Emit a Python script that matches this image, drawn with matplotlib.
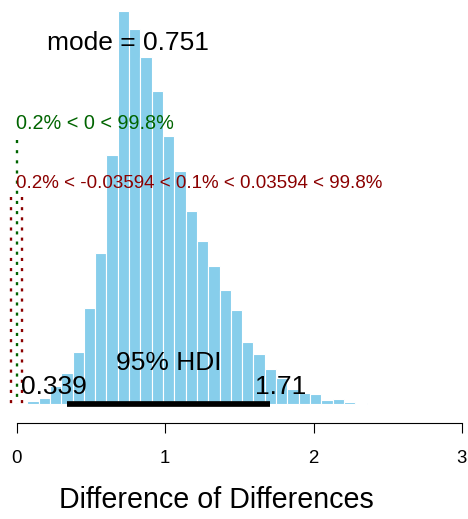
import numpy as np
import matplotlib
matplotlib.use("Agg")
import matplotlib.pyplot as plt
import matplotlib.transforms as mtransforms

# ---- data ----
bin_start = -0.081
bin_width = 0.0762
density = [0.002, 0.002, 0.013, 0.023, 0.070, 0.117, 0.198, 0.363, 0.570, 0.939,
           1.481, 1.413, 1.308, 1.180, 1.011, 0.879, 0.728, 0.615, 0.521, 0.431,
           0.356, 0.235, 0.190, 0.134, 0.100, 0.058, 0.043, 0.040, 0.017, 0.021,
           0.009, 0.006]
mode_val = 0.751
hdi = [0.339, 1.71]
cred_mass = 95
comp_val = 0.0
pc_lt_cv, pc_gt_cv = 0.2, 99.8
rope = [-0.03594, 0.03594]
pc_lt_rope, pc_in_rope, pc_gt_rope = 0.2, 0.1, 99.8
x_ticks = [0, 1, 2, 3]
x_tick_labels = ["0", "1", "2", "3"]
x_label = "Difference of Differences"

plt.rcParams['font.family'] = ['Liberation Sans', 'DejaVu Sans']

W, H = 468, 519
fig = plt.figure(figsize=(W / 100, H / 100), dpi=100)
ax_bottom_px = 422.7
ax = fig.add_axes([0, (H - ax_bottom_px) / H, 1, ax_bottom_px / H])
ax.set_xlim(-0.1125, 3.041)
ax.set_ylim(-0.0685, 1.5224)

edges = bin_start + bin_width * np.arange(len(density))
ax.bar(edges, density, width=bin_width, align='edge', color='#87CEEB',
       edgecolor='white', linewidth=0.8, zorder=1)

max_d = max(density)
cen_ht = 0.9 * max_d
cv_ht = 0.7 * max_d
rope_ht = 0.55 * max_d

dot_style = (0, (1.3, 3.0))
ax.plot([comp_val, comp_val], [0.96 * cv_ht, 0], color='#006400', lw=1.7,
        linestyle=dot_style, zorder=3)
for r in rope:
    ax.plot([r, r], [0.96 * rope_ht, 0], color='#8B0000', lw=1.7,
            linestyle=dot_style, zorder=3)

ax.plot(hdi, [0, 0], color='black', lw=4.1, solid_capstyle='butt', zorder=4)

# axes styling
for s in ['left', 'right', 'top']:
    ax.spines[s].set_visible(False)
ax.spines['bottom'].set_bounds(x_ticks[0], x_ticks[-1])
ax.spines['bottom'].set_linewidth(0.8)
ax.set_xticks(x_ticks)
ax.set_xticklabels(x_tick_labels)
ax.set_yticks([])
ax.tick_params(axis='x', length=7.3, width=0.8, pad=12.5, labelsize=13.4)

fig.text(216.5 / W, 1 - 500 / H, x_label, ha='center', va='center', fontsize=20.6)

big = 19
texts = []
# (x, y, string, hfrac, dx_px, dy_px, size, color)
texts.append((mode_val, cen_ht, f"mode = {mode_val}", 0.5, 0, 0, big, 'black'))
texts.append((comp_val, cv_ht, f"{pc_lt_cv}% < {comp_val:g} < {pc_gt_cv}%",
              pc_lt_cv / 100, 0, 0, 14.3, '#006400'))
texts.append((rope[0], rope_ht,
              f"{pc_lt_rope}% < {rope[0]} < {pc_in_rope}% < {rope[1]} < {pc_gt_rope}%",
              pc_lt_rope / 100, 5.5, 0, 13.5, '#8B0000'))
texts.append((np.mean(hdi), 0, f"{cred_mass}% HDI", 0.5, 0, 34.5, big, 'black'))
texts.append((hdi[0], 0, f"{hdi[0]}", 0.7, 0, 10.5, big, 'black'))
texts.append((hdi[1], 0, f"{hdi[1]}", 0.3, 0, 10.5, big, 'black'))

artists = []
for (x, y, s, hf, dx, dy, fs, c) in texts:
    t = ax.text(x, y, s, ha='left', va='baseline', fontsize=fs, color=c, zorder=5)
    artists.append((t, hf, dx, dy))

fig.canvas.draw()
renderer = fig.canvas.get_renderer()
for t, hf, dx, dy in artists:
    w = t.get_window_extent(renderer).width
    t.set_transform(mtransforms.offset_copy(ax.transData, fig=fig,
                                            x=-hf * w + dx, y=dy, units='dots'))

fig.savefig('out.png', dpi=100)
